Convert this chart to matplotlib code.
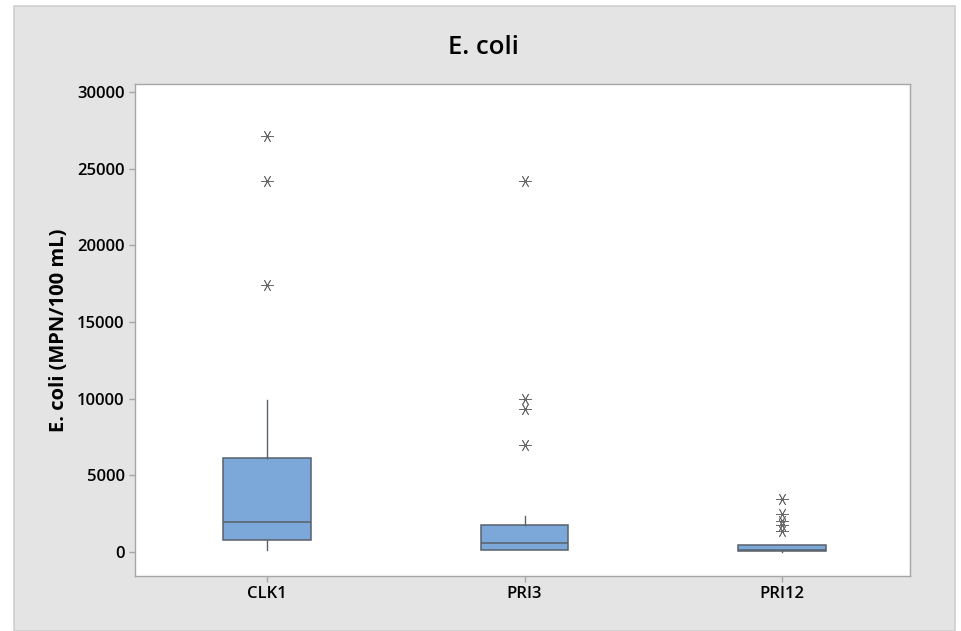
import matplotlib
matplotlib.use("Agg")
import matplotlib.pyplot as plt
from matplotlib.patches import Rectangle

# Data
categories = ["CLK1", "PRI3", "PRI12"]
whisker_low = [150, 130, 20]
q1 = [790, 130, 40]
median = [1970, 565, 110]
q3 = [6125, 1750, 430]
whisker_high = [9890, 2380, 430]
outliers = [
    [17400, 24200, 27100],
    [7000, 9340, 9950, 24200],
    [1390, 1740, 2000, 2480, 3440],
]
yticks = [0, 5000, 10000, 15000, 20000, 25000, 30000]

plt.rcParams['font.family'] = ['Open Sans', 'DejaVu Sans']

W, H = 961, 631
fig = plt.figure(figsize=(W / 100, H / 100), dpi=100)
fig.patch.set_facecolor("white")
bg = Rectangle((14 / W, 0), (955 - 14) / W, (H - 6) / H, transform=fig.transFigure,
               facecolor="#e4e4e4", edgecolor="#cfcfcf", linewidth=1.2, zorder=-10)
fig.patches.append(bg)

ax = fig.add_axes([135 / W, 1 - 576 / H, (910 - 135) / W, (576 - 84) / H])
ax.set_facecolor("white")

stats = []
for i, c in enumerate(categories):
    stats.append(dict(label=c, whislo=whisker_low[i], q1=q1[i], med=median[i],
                      q3=q3[i], whishi=whisker_high[i], fliers=outliers[i]))

ax.bxp(stats, positions=[1, 2, 3], widths=0.34, patch_artist=True, showcaps=False,
       boxprops=dict(facecolor="#7ca7d9", edgecolor="#59616b", linewidth=1.1),
       medianprops=dict(color="#59616b", linewidth=1.1),
       whiskerprops=dict(color="#59616b", linewidth=1.0),
       flierprops=dict(marker=(6, 2, 90), markersize=9, markeredgecolor="#6a6a6a",
                       markerfacecolor="none", markeredgewidth=0.6, linestyle="none"))

ax.set_xlim(0.488, 3.496)
ax.set_ylim(-1565, 30520)
ax.set_yticks(yticks)
ax.set_yticklabels([str(v) for v in yticks])
ax.set_xticks([1, 2, 3])
ax.set_xticklabels(categories)

for s in ax.spines.values():
    s.set_color("#a6a6a6")
    s.set_linewidth(1.0)
ax.tick_params(axis="both", colors="#a6a6a6", length=4, width=1.0, labelcolor="black",
               labelsize=12)
for lab in ax.get_xticklabels() + ax.get_yticklabels():
    lab.set_fontweight("semibold")

ax.set_ylabel("E. coli (MPN/100 mL)", fontsize=14.5, fontweight="bold", labelpad=6)
fig.text(483 / W, 1 - 48 / H, "E. coli", ha="center", va="center", fontsize=18.5,
         fontweight="semibold")

fig.savefig("out.png", dpi=100, facecolor=fig.get_facecolor())
